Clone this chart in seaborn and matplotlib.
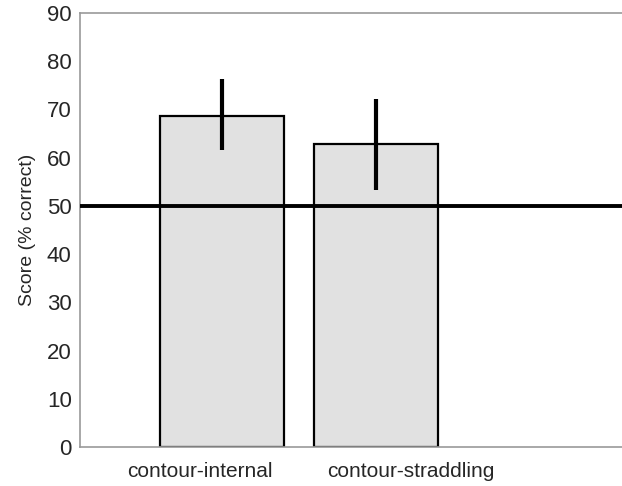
import matplotlib
matplotlib.use("Agg")
import matplotlib.pyplot as plt
import seaborn as sns
import pandas as pd

categories = ["contour-internal", "contour-straddling"]
scores = [68.7, 62.8]
err_upper = [7.6, 9.3]
err_lower = [7.2, 9.5]
chance = 50
yticks = [0, 10, 20, 30, 40, 50, 60, 70, 80, 90]

sns.set_style("white")
plt.rcParams['font.family'] = ['Liberation Sans', 'DejaVu Sans']

df = pd.DataFrame({"condition": categories, "score": scores})

fig = plt.figure(figsize=(6.22, 4.86), dpi=100)
ax = fig.add_axes([80/622, 39/486, (640-80)/622, 434/486])

sns.barplot(data=df, x="condition", y="score", color="#e1e1e1", saturation=1,
            edgecolor="black", linewidth=1.6, width=0.8, errorbar=None, ax=ax)
ax.errorbar(x=[0, 1], y=scores, yerr=[err_lower, err_upper], fmt="none",
            ecolor="black", elinewidth=3.0, capsize=0, zorder=5)
ax.axhline(chance, color="black", linewidth=2.8, zorder=6)

ax.set_ylim(0, 90)
ax.set_yticks(yticks)
ax.set_xlim((80-222)/154, (640-222)/154)
# label positions in the original are offset from the bar centres
ax.set_xticks([(200-222)/154, (411-222)/154])
ax.set_xticklabels(categories)
ax.set_xlabel("")
ax.set_ylabel("Score (% correct)", fontsize=14, labelpad=8)
ax.tick_params(axis="y", direction="in", length=4, color="#999999", labelsize=16, pad=6)
ax.tick_params(axis="x", length=0, labelsize=15, pad=11)
for s in ["left", "bottom", "top"]:
    ax.spines[s].set_color("#999999")
    ax.spines[s].set_linewidth(1.2)
ax.spines["right"].set_visible(False)

fig.savefig("out.png", dpi=100)
